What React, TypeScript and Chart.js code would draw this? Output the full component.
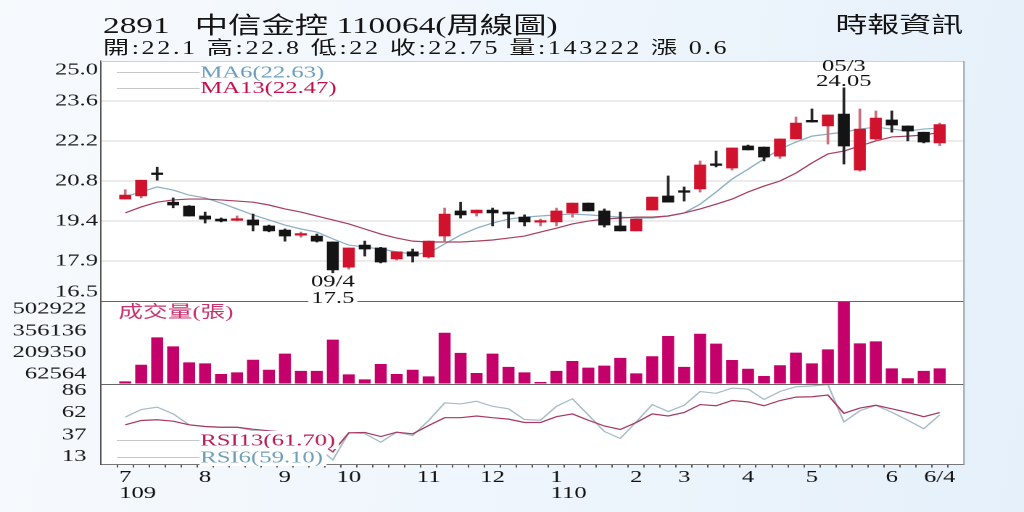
import React, { useEffect, useRef } from 'react';
import { Chart, registerables } from 'chart.js';

Chart.register(...registerables);

// ---------------- data ----------------
const weekLabels: (string | string[])[] = [
  ['7', '    109'], '', '', '', '', '8', '', '', '', '',
  '9', '', '', '', '10', '', '', '', '', '11',
  '', '', '', '12', '', '', '', ['1', '    110'], '', '',
  '', '', '2', '', '', '3', '', '', '', '4',
  '', '', '', '5', '', '', '', '', '6', '',
  '', '6/4',
];

const opens = [
  20.11, 20.22, 21.0, 20.0, 19.86, 19.51, 19.40, 19.36, 19.37, 19.16,
  19.01, 18.83, 18.80, 18.59, 17.70, 18.48, 18.38, 17.99, 18.24, 18.06,
  18.80, 19.69, 19.62, 19.72, 19.65, 19.47, 19.29, 19.30, 19.62, 19.97,
  19.69, 19.16, 18.98, 19.72, 20.22, 20.37, 20.47, 21.33, 21.21, 21.99,
  21.95, 21.63, 22.24, 22.87, 22.70, 23.12, 21.14, 22.24, 22.91, 22.70,
  22.48, 22.10,
];
const highs = [
  20.44, 20.78, 21.24, 20.15, 19.88, 19.65, 19.44, 19.51, 19.58, 19.19,
  19.05, 18.94, 18.87, 18.59, 18.38, 18.62, 18.40, 18.24, 18.34, 18.62,
  19.79, 20.00, 19.72, 19.79, 19.65, 19.55, 19.40, 19.79, 19.97, 19.97,
  19.76, 19.65, 19.40, 20.18, 20.93, 20.54, 21.46, 21.81, 21.92, 22.02,
  21.95, 22.24, 23.02, 23.30, 23.09, 24.05, 23.30, 23.23, 23.23, 22.70,
  22.48, 22.80,
];
const lows = [
  20.11, 20.15, 20.78, 19.80, 19.51, 19.26, 19.30, 19.33, 18.98, 18.95,
  18.62, 18.76, 18.59, 17.50, 17.63, 18.09, 17.85, 17.95, 17.88, 18.02,
  18.59, 19.44, 19.51, 19.16, 19.09, 19.16, 19.16, 19.16, 19.47, 19.69,
  19.12, 18.98, 18.98, 19.72, 20.00, 20.04, 20.36, 21.25, 21.14, 21.85,
  21.46, 21.55, 22.24, 22.84, 22.06, 21.35, 21.10, 22.20, 22.48, 22.17,
  22.10, 22.00,
];
const closes = [
  20.25, 20.78, 20.98, 19.90, 19.51, 19.40, 19.33, 19.38, 19.19, 18.98,
  18.80, 18.85, 18.62, 17.60, 18.38, 18.34, 17.88, 18.24, 18.09, 18.62,
  19.58, 19.55, 19.72, 19.62, 19.58, 19.30, 19.31, 19.69, 19.97, 19.69,
  19.19, 18.98, 19.40, 20.18, 20.00, 20.35, 21.32, 21.30, 21.92, 21.85,
  21.60, 22.24, 22.80, 22.84, 23.09, 21.99, 22.59, 22.98, 22.73, 22.52,
  22.13, 22.75,
];
const ma6 = [
  20.20, 20.36, 20.54, 20.43, 20.25, 20.15, 19.97, 19.76, 19.55, 19.37,
  19.19, 19.05, 18.94, 18.70, 18.48, 18.41, 18.34, 18.24, 18.16, 18.20,
  18.52, 18.84, 19.08, 19.26, 19.40, 19.47, 19.51, 19.55, 19.58, 19.55,
  19.51, 19.47, 19.44, 19.44, 19.51, 19.62, 19.93, 20.36, 20.82, 21.17,
  21.53, 21.88, 22.13, 22.34, 22.41, 22.48, 22.59, 22.66, 22.59, 22.52,
  22.59, 22.63,
];
const ma13 = [
  19.62, 19.83, 20.00, 20.08, 20.11, 20.11, 20.08, 20.04, 20.00, 19.90,
  19.76, 19.65, 19.51, 19.37, 19.23, 19.05, 18.87, 18.73, 18.62, 18.59,
  18.59, 18.59, 18.62, 18.66, 18.73, 18.80, 18.94, 19.08, 19.23, 19.33,
  19.40, 19.44, 19.47, 19.47, 19.51, 19.62, 19.76, 19.93, 20.11, 20.36,
  20.57, 20.75, 21.03, 21.39, 21.71, 21.81, 21.99, 22.17, 22.31, 22.34,
  22.38, 22.47,
];
const volumes = [
  12000, 125000, 310000, 249000, 141000, 134000, 62000, 73000, 159000, 91000,
  200000, 83000, 83000, 295000, 60000, 26000, 130000, 62000, 91000, 46000,
  342000, 205000, 69000, 200000, 110000, 73000, 8000, 83000, 150000, 105000,
  119000, 171000, 66000, 182000, 320000, 110000, 335000, 268000, 157000, 98000,
  49000, 121000, 207000, 134000, 229000, 559000, 270000, 283000, 100000, 33000,
  83000, 100000,
];
const rsi6 = [
  56.6, 65.1, 67.7, 60.3, 48.1, 46.2, 45.4, 45.4, 41.8, 39.9,
  39.9, 39.6, 24.0, 9.0, 39.2, 38.4, 28.8, 39.9, 36.2, 52.9,
  72.4, 71.3, 74.3, 68.6, 65.9, 54.0, 53.2, 68.6, 77.0, 59.0,
  40.7, 32.9, 51.3, 70.6, 62.9, 69.8, 85.1, 83.1, 88.9, 87.8,
  76.2, 85.1, 90.4, 91.2, 92.8, 51.3, 63.7, 69.8, 62.1, 53.2,
  43.7, 59.1,
];
const rsi13 = [
  48.1, 52.9, 53.7, 52.1, 48.1, 46.2, 45.4, 45.4, 43.2, 41.4,
  39.9, 39.6, 30.0, 18.0, 39.2, 39.6, 35.1, 39.9, 38.1, 47.3,
  56.0, 56.0, 57.9, 56.0, 54.4, 50.7, 50.7, 57.1, 60.2, 53.2,
  46.8, 42.9, 50.7, 60.2, 57.9, 61.8, 70.6, 69.3, 75.1, 73.6,
  69.3, 75.1, 78.9, 79.3, 81.2, 60.9, 66.7, 69.8, 65.9, 61.8,
  57.1, 61.7,
];

const priceTickLabels = ['16.5', '17.9', '19.4', '20.8', '22.2', '23.6', '25.0'];
const volumeTicks = [62564, 209350, 356136, 502922];
const rsiTicks = [13, 37, 62, 86];

const titleLine1 = '2891   中信金控 110064(周線圖)';
const titleLine2 = '開:22.1 高:22.8 低:22 收:22.75 量:143222 漲 0.6';
const sourceText = '時報資訊';
const maLegend = ['MA6(22.63)', 'MA13(22.47)'];
const rsiLegend = ['RSI13(61.70)', 'RSI6(59.10)'];
const volumeTitle = '成交量(張)';
const highNote = { index: 45, date: '05/3', value: '24.05' };
const lowNote = { index: 13, date: '09/4', value: '17.5' };

// ---------------- styling / layout ----------------
const W = 706;
const H = 512;
const STRETCH = 1024 / W;
const SERIF = "'Liberation Serif', 'Noto Sans CJK TC', serif";
const PLOT_LEFT = 69.6;
const PLOT_RIGHT = 664.6;
const PLOT_TOP = 61;
const PLOT_BOTTOM = 464.5;

const PRICE_MIN = 16.5;
const PRICE_MAX = 25.0;
const VOL_MAX = 559000;
const RSI_MIN = 4;
const RSI_MAX = 94;

const UP = '#d0122c';
const DOWN = '#141414';
const UP_WICK = '#c9707f';
const DOWN_WICK = '#262626';
const VOL = '#c4006a';
const MA6_C = '#8db0c3';
const MA13_C = '#a8405e';
const RSI6_C = '#a8bdc8';
const RSI13_C = '#a63a62';
const MA6_TEXT = '#6b9dbd';
const MA13_TEXT = '#c2104c';
const RSI13_TEXT = '#b61e58';
const RSI6_TEXT = '#6e9fb6';
const VOL_TEXT = '#c7336e';

const overlayPlugin = {
  id: 'overlay',
  beforeDraw(chart: any) {
    const { ctx, chartArea: a } = chart;
    ctx.save();
    ctx.fillStyle = '#ffffff';
    ctx.fillRect(a.left, a.top, a.right - a.left, a.bottom - a.top);
    ctx.restore();
  },
  afterDatasetsDraw(chart: any) {
    const { ctx, chartArea: a, scales } = chart;
    const { x, y, yv, yr } = scales;
    ctx.save();
    const hline = (yy: number, color: string, x0 = a.left, x1 = a.right) => {
      ctx.strokeStyle = color;
      ctx.lineWidth = 1;
      ctx.beginPath();
      ctx.moveTo(x0, Math.round(yy) + 0.5);
      ctx.lineTo(x1, Math.round(yy) + 0.5);
      ctx.stroke();
    };
    hline(a.top, '#cfd3d6');
    hline(yv.top, '#666666');
    hline(yr.top, '#666666');
    ctx.strokeStyle = '#9da3a8';
    ctx.beginPath();
    ctx.moveTo(a.right, a.top);
    ctx.lineTo(a.right, a.bottom);
    ctx.stroke();

    ctx.font = `17px ${SERIF}`;
    ctx.textBaseline = 'middle';
    ctx.textAlign = 'left';
    const lx0 = a.left + 11;
    const lx1 = a.left + 68;
    const legend = (text: string, color: string, yy: number, backdrop: boolean) => {
      hline(yy, '#c6c6c6', lx0, lx1);
      const w = ctx.measureText(text).width;
      if (backdrop) {
        ctx.fillStyle = '#ffffff';
        ctx.fillRect(lx1, yy - 9, w + 3, 18);
      }
      ctx.fillStyle = color;
      ctx.fillText(text, lx1 + 0.5, yy + 1);
    };
    legend(maLegend[0], MA6_TEXT, a.top + 11, false);
    legend(maLegend[1], MA13_TEXT, a.top + 26.5, false);
    legend(rsiLegend[0], RSI13_TEXT, yr.top + 56.5, true);
    legend(rsiLegend[1], RSI6_TEXT, yr.top + 73.5, true);

    ctx.fillStyle = VOL_TEXT;
    ctx.fillText(volumeTitle, a.left + 12, yv.top + 12);

    ctx.fillStyle = '#111111';
    ctx.textAlign = 'center';
    ctx.textBaseline = 'alphabetic';
    const hx = x.getPixelForValue(highNote.index);
    const hy = y.getPixelForValue(highs[highNote.index]);
    ctx.fillText(highNote.value, hx, hy - 2);
    ctx.fillText(highNote.date, hx, hy - 17);
    const lx = x.getPixelForValue(lowNote.index);
    const ly = y.getPixelForValue(lows[lowNote.index]);
    ctx.fillText(lowNote.date, lx, ly + 13.5);
    const w = ctx.measureText(lowNote.value).width;
    ctx.fillStyle = '#ffffff';
    ctx.fillRect(lx - w / 2 - 2, ly + 17, w + 4, 16);
    ctx.fillStyle = '#111111';
    ctx.fillText(lowNote.value, lx, ly + 30);
    ctx.restore();
  },
};

function yAxisBase(fit: number) {
  return {
    type: 'linear' as const,
    position: 'left' as const,
    stack: 'panels',
    grid: { display: false },
    border: { display: true, color: '#555555', width: 1 },
    afterFit: (s: any) => {
      s.width = fit;
    },
  };
}

export default function App() {
  const ref = useRef<HTMLCanvasElement>(null);

  useEffect(() => {
    const pts = (arr: number[]) => arr.map((v, i) => ({ x: i, y: v }));
    const isUp = closes.map((c, i) => c >= opens[i]);
    const tickFont = { size: 17, family: SERIF, lineHeight: 1.05 };
    const lastPrice = priceTickLabels.length - 1;

    const chart = new Chart(ref.current as HTMLCanvasElement, {
      type: 'bar',
      data: {
        datasets: [
          {
            type: 'line', label: 'MA6', data: pts(ma6), xAxisID: 'x', yAxisID: 'y',
            borderColor: MA6_C, borderWidth: 1.2, pointRadius: 0, tension: 0, order: 5,
          },
          {
            type: 'line', label: 'MA13', data: pts(ma13), xAxisID: 'x', yAxisID: 'y',
            borderColor: MA13_C, borderWidth: 1.2, pointRadius: 0, tension: 0, order: 4,
          },
          {
            type: 'bar', label: 'wick', xAxisID: 'x', yAxisID: 'y',
            data: highs.map((h, i) => ({ x: i, y: [lows[i], h] })),
            backgroundColor: isUp.map((u) => (u ? UP_WICK : DOWN_WICK)),
            barThickness: 1.2, grouped: false, minBarLength: 1, order: 3,
          },
          {
            type: 'bar', label: 'body', xAxisID: 'x', yAxisID: 'y',
            data: opens.map((o, i) => ({ x: i, y: [o, closes[i]] })),
            backgroundColor: isUp.map((u) => (u ? UP : DOWN)),
            barThickness: 7.6, grouped: false, minBarLength: 1.6, order: 2,
          },
          {
            type: 'bar', label: '成交量', xAxisID: 'x', yAxisID: 'yv',
            data: pts(volumes), backgroundColor: VOL,
            barThickness: 7.6, grouped: false, order: 2,
          },
          {
            type: 'line', label: 'RSI6', data: pts(rsi6), xAxisID: 'x', yAxisID: 'yr',
            borderColor: RSI6_C, borderWidth: 1.2, pointRadius: 0, tension: 0, order: 1,
          },
          {
            type: 'line', label: 'RSI13', data: pts(rsi13), xAxisID: 'x', yAxisID: 'yr',
            borderColor: RSI13_C, borderWidth: 1.2, pointRadius: 0, tension: 0, order: 0,
          },
        ] as any,
      },
      options: {
        responsive: false,
        animation: false,
        devicePixelRatio: 2,
        events: [],
        layout: { padding: { left: 0, top: PLOT_TOP, right: W - PLOT_RIGHT, bottom: 0 } },
        plugins: { legend: { display: false }, tooltip: { enabled: false } },
        scales: {
          x: {
            type: 'linear',
            position: 'bottom',
            min: -1,
            max: weekLabels.length,
            afterBuildTicks: (s: any) => {
              s.ticks = weekLabels.map((_, i) => ({ value: i }));
            },
            ticks: {
              autoSkip: false,
              maxRotation: 0,
              minRotation: 0,
              padding: 2,
              color: '#111111',
              font: { size: 17, family: SERIF, lineHeight: 0.95 },
              callback: (_v: any, i: number) => weekLabels[i],
            },
            grid: { drawOnChartArea: false, drawTicks: true, tickLength: 3, color: '#555555' },
            border: { display: true, color: '#777777', width: 1 },
            afterFit: (s: any) => {
              s.height = H - PLOT_BOTTOM;
            },
          },
          yr: {
            ...yAxisBase(PLOT_LEFT),
            weight: 1,
            stackWeight: 81,
            min: RSI_MIN,
            max: RSI_MAX,
            afterBuildTicks: (s: any) => {
              s.ticks = rsiTicks.map((v) => ({ value: v }));
            },
            ticks: { autoSkip: false, padding: 2, color: '#1a1a1a', font: tickFont, callback: (v: any) => String(v) },
          },
          yv: {
            ...yAxisBase(PLOT_LEFT),
            weight: 2,
            stackWeight: 82.5,
            min: 0,
            max: VOL_MAX,
            afterBuildTicks: (s: any) => {
              s.ticks = volumeTicks.map((v) => ({ value: v }));
            },
            ticks: { autoSkip: false, padding: 2, color: '#1a1a1a', font: tickFont, callback: (v: any) => String(v) },
          },
          y: {
            ...yAxisBase(PLOT_LEFT),
            weight: 3,
            stackWeight: 240,
            min: PRICE_MIN,
            max: PRICE_MAX,
            afterBuildTicks: (s: any) => {
              s.ticks = priceTickLabels.map((_, i) => ({
                value: PRICE_MIN + ((PRICE_MAX - PRICE_MIN) * i) / lastPrice,
              }));
            },
            grid: {
              display: true,
              drawTicks: false,
              drawOnChartArea: true,
              color: (c: any) => (c.index === 0 || c.index === lastPrice ? 'rgba(0,0,0,0)' : '#dadada'),
            },
            ticks: {
              autoSkip: false,
              padding: 2,
              color: '#1a1a1a',
              font: tickFont,
              callback: (_v: any, i: number) =>
                i === 0 ? [priceTickLabels[i], ''] : i === lastPrice ? ['', priceTickLabels[i]] : priceTickLabels[i],
            },
          },
        } as any,
      },
      plugins: [overlayPlugin],
    } as any);
    return () => chart.destroy();
  }, []);

  const textBase: React.CSSProperties = {
    position: 'absolute',
    fontFamily: SERIF,
    color: '#141414',
    whiteSpace: 'pre',
  };

  return (
    <div
      style={{
        position: 'fixed',
        left: 0,
        top: 0,
        width: 1024,
        height: 512,
        overflow: 'hidden',
        background: 'linear-gradient(100deg, #f7fafd 0%, #eef5fc 55%, #e5f0fa 100%)',
      }}
    >
      <div
        style={{
          position: 'absolute',
          left: 0,
          top: 0,
          width: W,
          height: H,
          transform: `scaleX(${STRETCH})`,
          transformOrigin: '0 0',
        }}
      >
        <div style={{ ...textBase, left: 71, top: 14, fontSize: 23, lineHeight: '23px' }}>{titleLine1}</div>
        <div style={{ ...textBase, left: 71, top: 39, fontSize: 18, lineHeight: '18px', letterSpacing: '1.8px' }}>
          {titleLine2}
        </div>
        <div style={{ ...textBase, right: W - 664, top: 14, fontSize: 22, lineHeight: '22px' }}>{sourceText}</div>
        <canvas
          ref={ref}
          width={W}
          height={H}
          style={{ position: 'absolute', left: 0, top: 0, width: W, height: H }}
        />
      </div>
    </div>
  );
}
